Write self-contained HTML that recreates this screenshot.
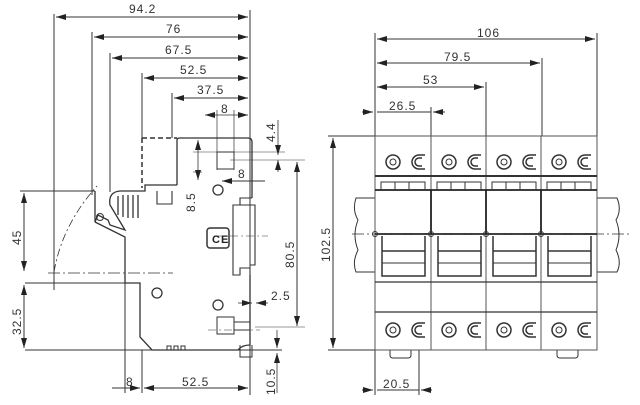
<!DOCTYPE html>
<html><head><meta charset="utf-8"><style>
html,body{margin:0;padding:0;background:#fff;}
svg{display:block;}
text{font-family:"Liberation Sans",sans-serif;font-size:12px;fill:#333;letter-spacing:1px;}
</style></head><body>
<svg width="640" height="405" viewBox="0 0 640 405" xmlns="http://www.w3.org/2000/svg">
<defs>
<marker id="a" markerWidth="10" markerHeight="6" refX="10" refY="3" orient="auto-start-reverse" markerUnits="userSpaceOnUse"><path d="M0,0 L10,3 L0,6z" fill="#222"/></marker>
</defs>
<rect x="0" y="0" width="640" height="405" fill="#ffffff"/>
<g stroke="#333" stroke-width="1" fill="none">
<line x1="250" y1="10" x2="250" y2="395"/>
<line x1="54" y1="14" x2="54" y2="290"/>
<line x1="92" y1="32" x2="92" y2="195"/>
<line x1="110" y1="53" x2="110" y2="192"/>
<line x1="142" y1="73" x2="142" y2="138"/>
<line x1="172" y1="93" x2="172" y2="138"/>
<line x1="56" y1="17" x2="248" y2="17" marker-start="url(#a)" marker-end="url(#a)"/>
<line x1="94" y1="37" x2="248" y2="37" marker-start="url(#a)" marker-end="url(#a)"/>
<line x1="112" y1="58" x2="248" y2="58" marker-start="url(#a)" marker-end="url(#a)"/>
<line x1="144" y1="78" x2="248" y2="78" marker-start="url(#a)" marker-end="url(#a)"/>
<line x1="174" y1="98" x2="248" y2="98" marker-start="url(#a)" marker-end="url(#a)"/>
<line x1="205" y1="115" x2="248" y2="115" marker-start="url(#a)" marker-end="url(#a)" stroke-width="0.8"/>
<line x1="217" y1="110" x2="217" y2="170" stroke-width="0.7"/>
<line x1="234" y1="110" x2="234" y2="170" stroke-width="0.7"/>
<line x1="222" y1="181" x2="265" y2="181" marker-start="url(#a)"/>
<line x1="193" y1="152" x2="285" y2="152" stroke-width="0.6"/>
<line x1="193" y1="172" x2="202" y2="172" stroke-width="0.6"/>
<line x1="198" y1="140" x2="198" y2="180" marker-start="url(#a)" marker-end="url(#a)" stroke-width="0.8"/>
<line x1="278" y1="120" x2="278" y2="155" marker-end="url(#a)" stroke-width="0.8"/>
<line x1="278" y1="172" x2="278" y2="160" marker-end="url(#a)" stroke-width="0.8"/>
<line x1="230" y1="160" x2="305" y2="160" stroke-width="0.6"/>
<line x1="297" y1="162" x2="297" y2="326" marker-start="url(#a)" marker-end="url(#a)"/>
<line x1="255" y1="327" x2="305" y2="327" stroke-width="0.6"/>
<line x1="238" y1="303" x2="252" y2="303" marker-end="url(#a)" stroke-width="0.8"/>
<line x1="268" y1="303" x2="256" y2="303" marker-end="url(#a)" stroke-width="0.8"/>
<line x1="277" y1="330" x2="277" y2="348" marker-end="url(#a)" stroke-width="0.8"/>
<line x1="277" y1="393" x2="277" y2="353" marker-end="url(#a)" stroke-width="0.8"/>
<line x1="20" y1="191" x2="95" y2="191"/>
<line x1="25" y1="283" x2="125" y2="283"/>
<line x1="25" y1="350" x2="282" y2="350"/>
<line x1="24" y1="193" x2="24" y2="271" marker-start="url(#a)" marker-end="url(#a)"/>
<line x1="24" y1="285" x2="24" y2="348" marker-start="url(#a)" marker-end="url(#a)"/>
<line x1="125" y1="283" x2="125" y2="393"/>
<line x1="142" y1="350" x2="142" y2="393"/>
<line x1="112" y1="388" x2="140" y2="388" marker-end="url(#a)"/>
<line x1="144" y1="388" x2="248" y2="388" marker-start="url(#a)" marker-end="url(#a)"/>
<path d="M48,273 H173" stroke-dasharray="12,3,2,3" stroke-width="0.8"/>
<path d="M54,272 Q62,225 97,186" stroke-dasharray="8,3,2,3" stroke-width="0.8"/>
<path d="M214,236 H268" stroke-dasharray="8,3,2,3" stroke-width="0.6"/>
<path d="M142,138 H177 M142,138 V188" stroke-dasharray="5,3" stroke-width="1.5"/>
<path d="M177,185 V140 Q177,138 180,138 H248 Q252,138 252,142 V198" stroke-width="1.3"/>
<path d="M177,185 H145 V191 H120 Q108,192 110,205 L125,230 L110,225 L108,220 L98,215 L95,222 L95,191 M95,222 L125,237 V283 H140 V337 L152,350 H238 Q242,345 250,345 V275" stroke-width="1.3"/>
<path d="M252,198 H240 V205 H233 V275 H240 V268 H250 V275 M240,205 H255 V265 H250" stroke-width="1.1"/>
<path d="M157,191 V204 H172 V191" stroke-width="1.1"/>
<path d="M118,196 V215 M123,195 V217 M128,195 V218 M133,195 V218 M138,195 V218" stroke-width="1.3"/>
<path d="M240,345 V357 H252 V345"/>
<path d="M167,350 v-4 h4 v4 M174,350 v-4 h4 v4 M181,350 v-4 h4 v4"/>
<circle cx="218" cy="190" r="5" stroke-width="1.3"/>
<circle cx="157" cy="293" r="5" stroke-width="1.3"/>
<circle cx="218" cy="305" r="5" stroke-width="1.3"/>
<circle cx="100" cy="217" r="3.5"/>
<rect x="207" y="228" width="22" height="20" rx="3" stroke-width="1.5"/>
<rect x="217" y="152" width="17" height="17"/>
<rect x="217" y="317" width="17" height="17"/>
<path d="M234,322 H250 M234,330 H250"/>
<path d="M208,330 H260" stroke-dasharray="8,3,2,3" stroke-width="0.6"/>
<line x1="375" y1="33" x2="375" y2="395"/>
<line x1="597" y1="33" x2="597" y2="136"/>
<line x1="542" y1="58" x2="542" y2="136"/>
<line x1="486" y1="82" x2="486" y2="136"/>
<line x1="431" y1="107" x2="431" y2="136"/>
<line x1="419" y1="350" x2="419" y2="395"/>
<line x1="377" y1="39" x2="595" y2="39" marker-start="url(#a)" marker-end="url(#a)"/>
<line x1="377" y1="63" x2="540" y2="63" marker-start="url(#a)" marker-end="url(#a)"/>
<line x1="377" y1="87" x2="484" y2="87" marker-start="url(#a)" marker-end="url(#a)"/>
<line x1="362" y1="112" x2="373" y2="112" marker-end="url(#a)"/>
<line x1="445" y1="112" x2="433" y2="112" marker-end="url(#a)"/>
<line x1="377" y1="112" x2="431" y2="112"/>
<line x1="362" y1="390" x2="373" y2="390" marker-end="url(#a)"/>
<line x1="432" y1="390" x2="421" y2="390" marker-end="url(#a)"/>
<line x1="377" y1="390" x2="419" y2="390"/>
<line x1="328" y1="136" x2="375" y2="136"/>
<line x1="328" y1="350" x2="375" y2="350"/>
<line x1="333" y1="138" x2="333" y2="348" marker-start="url(#a)" marker-end="url(#a)"/>
<path d="M375,198 H356 Q352,210 358,220 Q352,235 358,250 Q352,262 356,272 H375"/>
<path d="M597,198 H617 Q622,210 616,220 Q622,235 616,250 Q622,262 617,272 H597"/>
<path d="M390,350 v5 q0,3 3,3 h15 q3,0 3,-3 v-5 M557,350 v5 q0,3 3,3 h15 q3,0 3,-3 v-5"/>
</g>
<!-- white faces -->
<g fill="#ffffff" stroke="none">
<rect x="376" y="191" width="54" height="42"/>
<rect x="432" y="191" width="53" height="42"/>
<rect x="487" y="191" width="53" height="42"/>
<rect x="542" y="191" width="54" height="42"/>
</g>
<g stroke="#333" stroke-width="1" fill="none">
<path d="M375,136 H597 V350 H375 Z M431,136 V350 M486,136 V350 M541,136 V350" stroke="#555"/>
<path d="M375,176 H597" stroke-width="2"/>
<path d="M375,190 H597 M375,234 H597" stroke-width="1.8" stroke="#222"/>
<path d="M431,190 V234 M486,190 V234 M541,190 V234" stroke-width="1.8" stroke="#222"/>
<path d="M375,282 H597 M375,312 H597" stroke-width="1.2"/>
<path d="M381,190 v-8 h44 v8 M395,182 v8 M409,182 v8 M437,190 v-8 h44 v8 M451,182 v8 M465,182 v8 M492,190 v-8 h44 v8 M506,182 v8 M520,182 v8 M547,190 v-8 h44 v8 M561,182 v8 M575,182 v8"/>
<path d="M382,236 V276 H425 V236 M438,236 V276 H481 V236 M493,236 V276 H536 V236 M548,236 V276 H591 V236" stroke-width="1.5"/>
<path d="M382,251 H425 M438,251 H481 M493,251 H536 M548,251 H591" stroke-width="1.5"/>
<path d="M382,263 H425 M438,263 H481 M493,263 H536 M548,263 H591"/>
<circle cx="375" cy="234" r="2.5"/><circle cx="431" cy="234" r="2.5"/><circle cx="486" cy="234" r="2.5"/><circle cx="541" cy="234" r="2.5"/>
<g stroke-width="1.5">
<circle cx="393" cy="162" r="7"/><circle cx="449" cy="162" r="7"/><circle cx="504" cy="162" r="7"/><circle cx="559" cy="162" r="7"/>
<circle cx="393" cy="330" r="7"/><circle cx="449" cy="330" r="7"/><circle cx="504" cy="330" r="7"/><circle cx="559" cy="330" r="7"/>
<path d="M425,155 h-6 a7,7 0 0 0 0,14 h6 M422,158 h-3 a4,4 0 0 0 0,8 h3 M481,155 h-6 a7,7 0 0 0 0,14 h6 M478,158 h-3 a4,4 0 0 0 0,8 h3 M536,155 h-6 a7,7 0 0 0 0,14 h6 M533,158 h-3 a4,4 0 0 0 0,8 h3 M591,155 h-6 a7,7 0 0 0 0,14 h6 M588,158 h-3 a4,4 0 0 0 0,8 h3"/>
<path d="M425,323 h-6 a7,7 0 0 0 0,14 h6 M422,326 h-3 a4,4 0 0 0 0,8 h3 M481,323 h-6 a7,7 0 0 0 0,14 h6 M478,326 h-3 a4,4 0 0 0 0,8 h3 M536,323 h-6 a7,7 0 0 0 0,14 h6 M533,326 h-3 a4,4 0 0 0 0,8 h3 M591,323 h-6 a7,7 0 0 0 0,14 h6 M588,326 h-3 a4,4 0 0 0 0,8 h3"/>
</g>
<circle cx="393" cy="162" r="3"/><circle cx="449" cy="162" r="3"/><circle cx="504" cy="162" r="3"/><circle cx="559" cy="162" r="3"/>
<circle cx="393" cy="330" r="3"/><circle cx="449" cy="330" r="3"/><circle cx="504" cy="330" r="3"/><circle cx="559" cy="330" r="3"/>
<path d="M352,234 H632" stroke-dasharray="12,3,2,3" stroke-width="0.8"/>
</g>
<text x="129" y="13">94.2</text>
<text x="166" y="33">76</text>
<text x="165" y="54">67.5</text>
<text x="180" y="74">52.5</text>
<text x="197" y="94">37.5</text>
<text x="221" y="113">8</text>
<text x="238" y="178">8</text>
<text x="271" y="300">2.5</text>
<text x="126" y="386">8</text>
<text x="182" y="386">52.5</text>
<text x="212" y="243" style="font-size:11px;font-weight:bold;fill:#222">CE</text>
<text transform="translate(21,245) rotate(-90)">45</text>
<text transform="translate(21,335) rotate(-90)">32.5</text>
<text transform="translate(195,212) rotate(-90)">8.5</text>
<text transform="translate(275,142) rotate(-90)">4.4</text>
<text transform="translate(294,268) rotate(-90)">80.5</text>
<text transform="translate(275,395) rotate(-90)">10.5</text>
<text transform="translate(330,262) rotate(-90)">102.5</text>
<text x="477" y="37">106</text>
<text x="444" y="61">79.5</text>
<text x="423" y="84">53</text>
<text x="389" y="110">26.5</text>
<text x="383" y="388">20.5</text>
</svg>
</body></html>
